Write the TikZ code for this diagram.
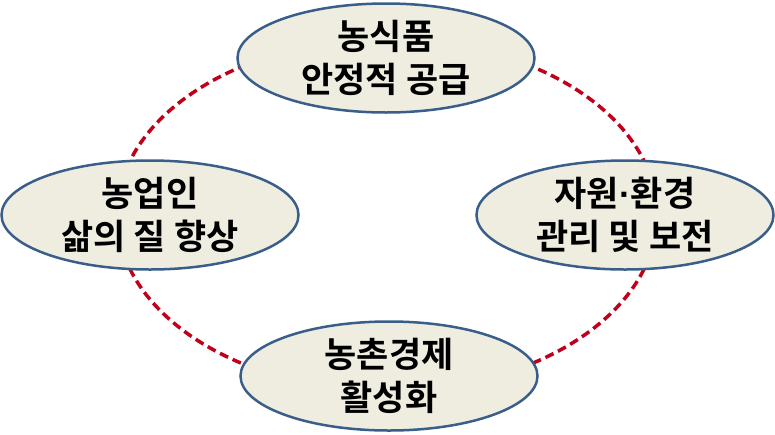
\documentclass[tikz,border=0pt]{standalone}
\usetikzlibrary{shapes.geometric}
\usepackage{fontspec}
\newfontfamily\kr{Noto Sans CJK KR}[BoldFont={* Bold}]
\newfontfamily\lat{Liberation Sans}[BoldFont={* Bold}]
\definecolor{nodefill}{RGB}{238,237,224}
\definecolor{nodeborder}{RGB}{58,94,138}
\definecolor{ringred}{RGB}{192,0,26}
\begin{document}
\begin{tikzpicture}[x=1pt,y=-1pt,
  goal/.style={ellipse, draw=nodeborder, line width=2.5pt, fill=nodefill,
    minimum width=297pt, minimum height=109pt, inner sep=0pt,
    align=center, font=\kr\bfseries\fontsize{35}{41}\selectfont},
  ring/.style={draw=ringred, line width=3.5pt, dash pattern=on 9pt off 5pt}]
\useasboundingbox (0,0) rectangle (775,434);
\coordinate (c) at (387,215);
\draw[ring] (c) ellipse [x radius=270, y radius=176];
\node[goal] (top) at (386,58) {농식품\\[2pt]안정적 공급};
\node[goal] (left) at (150,215) {농업인\\[2pt]삶의 질 향상};
\node[goal] (right) at (625,215) {자원{\lat\bfseries ·}환경\\[2pt]관리 및 보전};
\node[goal] (bottom) at (389,376) {농촌경제\\[2pt]활성화};
\end{tikzpicture}
\end{document}
